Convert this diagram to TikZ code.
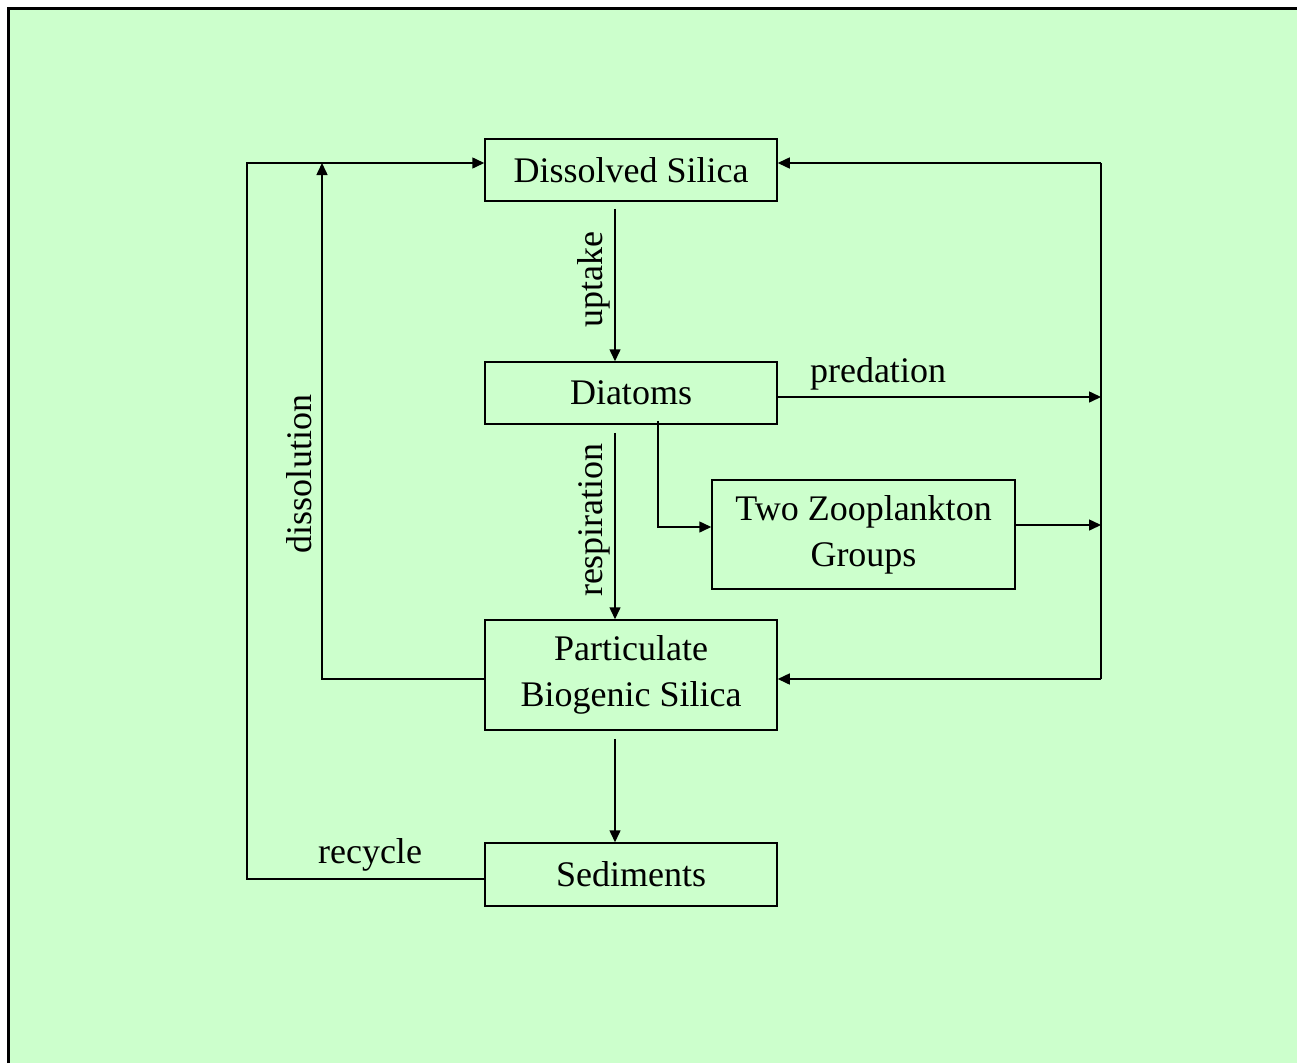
\documentclass[tikz,border=0pt]{standalone}
\usepackage{fontspec}
\setmainfont{Liberation Serif}
\usetikzlibrary{arrows.meta}
\definecolor{bg}{HTML}{CCFFCC}
\begin{document}
\begin{tikzpicture}[x=1pt,y=-1pt,
  box/.style={draw, line width=1.5pt, rectangle, inner sep=0pt, align=center,
    font=\fontsize{36}{46}\selectfont},
  lab/.style={font=\fontsize{36}{46}\selectfont, inner sep=0pt},
  conn/.style={line width=1.5pt},
  arr/.style={conn, -{Triangle[length=12pt,width=11pt]}}]
\useasboundingbox (0,0) rectangle (1297,1063);
\fill[bg] (7,7) rectangle (1297,1063);
\draw[line width=3pt] (8.5,1063) -- (8.5,8.5) -- (1297,8.5);

\node[box, minimum width=292pt, minimum height=62pt] (ds) at (631,170) {\raisebox{-2pt}{Dissolved Silica}};
\node[box, minimum width=292pt, minimum height=62pt] (dia) at (631,393) {\raisebox{-2pt}{Diatoms}};
\node[box, minimum width=303pt, minimum height=109pt] (zoo) at (863.5,534.5) {Two Zooplankton\\Groups};
\node[box, minimum width=292pt, minimum height=110pt] (pbs) at (631,675) {Particulate\\Biogenic Silica};
\node[box, minimum width=292pt, minimum height=63pt] (sed) at (631,874.5) {\raisebox{-2pt}{Sediments}};

\coordinate (busT) at (1101,163);
\coordinate (busB) at (1101,679);
\coordinate (dtop) at (322,163);
\coordinate (rc) at (247,163);

% vertical flows
\draw[arr] ([xshift=-16pt,yshift=-7pt]ds.south) -- ([xshift=-16pt]dia.north);
\draw[arr] ([xshift=-16pt,yshift=-8pt]dia.south) -- ([xshift=-16pt]pbs.north);
\draw[arr] ([xshift=-16pt,yshift=-8pt]pbs.south) -- ([xshift=-16pt]sed.north);

% right bus
\draw[arr] ([yshift=-4pt]dia.east) -- ([yshift=-4pt]dia.east -| busT);
\draw[arr] ([yshift=9.5pt]zoo.east) -- ([yshift=9.5pt]zoo.east -| busT);
\draw[conn] (busT) -- (busB);
\draw[arr] (busT) -- (busT -| ds.east);
\draw[arr] (busB) -- (busB -| pbs.east);

% diatoms to zooplankton
\draw[arr] ([xshift=27pt,yshift=4pt]dia.south) |- ([yshift=7.5pt]zoo.west);

% dissolution
\draw[arr] ([yshift=-4pt]pbs.west) -| (dtop);

% recycle
\draw[arr] ([yshift=-4.5pt]sed.west) -| (rc) -- (rc -| ds.west);

% labels
\node[lab, rotate=90] (lup) at (594,280) {uptake};
\node[lab, rotate=90] (ldis) at (299,474) {dissolution};
\node[lab, rotate=90] (lres) at (594,520) {respiration};
\node[lab] (lpred) at (878,374) {predation};
\node[lab] (lrec) at (370,855) {recycle};
\end{tikzpicture}
\end{document}
